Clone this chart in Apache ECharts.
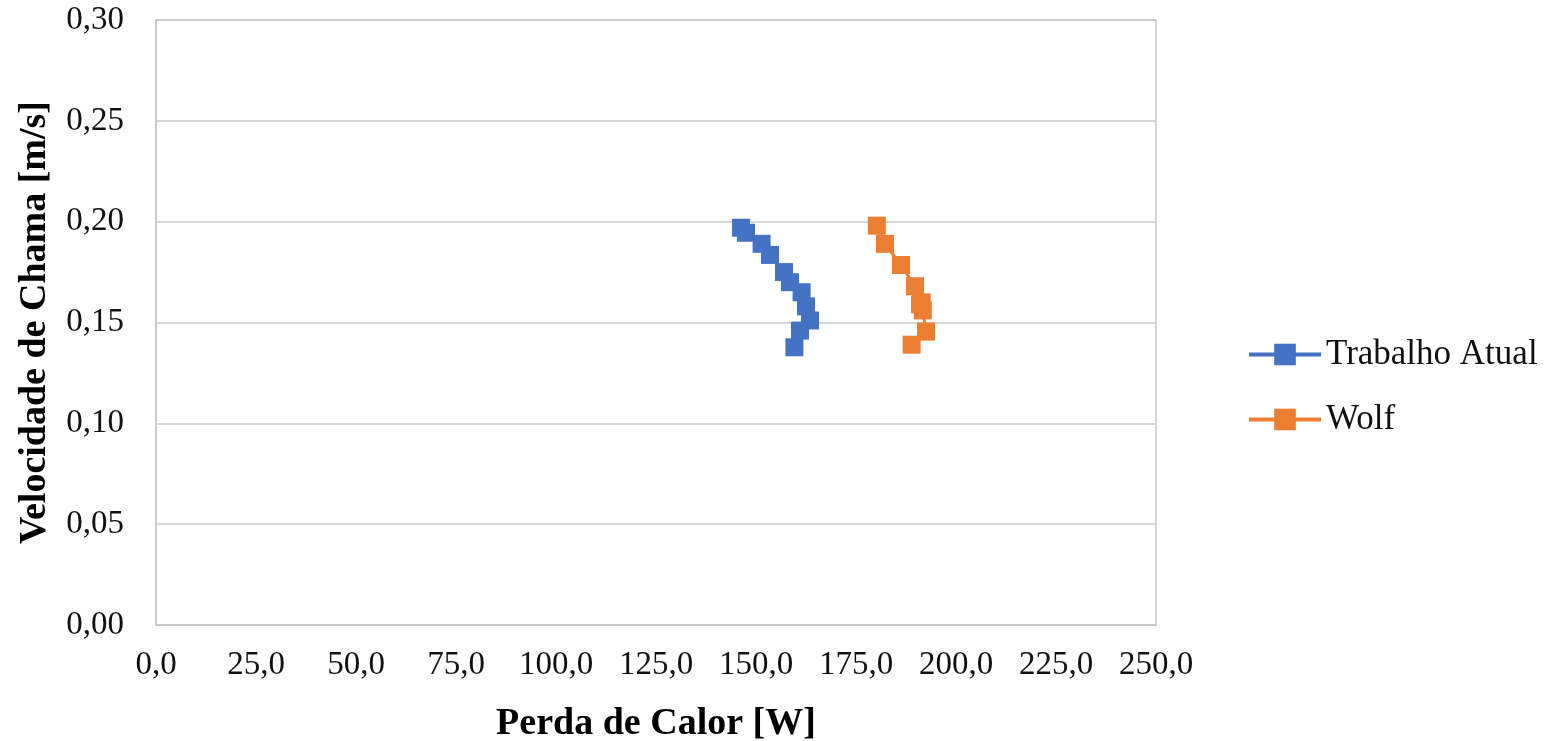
<!DOCTYPE html>
<html><head><meta charset="utf-8">
<script src="https://cdn.jsdelivr.net/npm/echarts@6/dist/echarts.min.js"></script>
<style>html,body{margin:0;padding:0;background:#fff}#c{width:1555px;height:741px}</style>
</head><body><div id="c"></div>
<script>
const seriesNames = ['Trabalho Atual', 'Wolf'];
const trabalhoX = [146.25, 147.5, 151.4, 153.5, 157.0, 158.5, 161.4, 162.5, 163.5, 161.0, 159.6];
const trabalhoY = [0.197, 0.1945, 0.189, 0.1835, 0.175, 0.170, 0.165, 0.158, 0.151, 0.146, 0.1377];
const wolfX = [180.2, 182.25, 186.25, 189.75, 191.4, 191.0, 191.7, 192.5, 188.9];
const wolfY = [0.198, 0.189, 0.1785, 0.168, 0.160, 0.159, 0.156, 0.1455, 0.139];
const xTicks = [0, 25, 50, 75, 100, 125, 150, 175, 200, 225, 250];
const yTicks = [0, 0.05, 0.10, 0.15, 0.20, 0.25, 0.30];

const zip = (a, b) => a.map((v, i) => [v, b[i]]);
const font = 'Liberation Serif';
const chart = echarts.init(document.getElementById('c'));
chart.setOption({
  animation: false,
  textStyle: { fontFamily: font },
  grid: { left: 156, right: 399, top: 20, bottom: 116, show: true, borderColor: '#c8c8c8', borderWidth: 1.5,
          containLabel: false, outerBoundsMode: 'none' },
  legend: {
    orient: 'vertical', left: 1242, top: 332, itemWidth: 72, itemHeight: 27, itemGap: 30,
    lineStyle: { width: 4 },
    textStyle: { fontFamily: font, fontSize: 35, color: '#111' },
    data: seriesNames
  },
  xAxis: {
    type: 'value', min: xTicks[0], max: xTicks[xTicks.length - 1], interval: 25,
    name: 'Perda de Calor [W]', nameLocation: 'middle', nameGap: 80, nameMoveOverlap: false,
    nameTextStyle: { fontFamily: font, fontSize: 38, fontWeight: 'bold', color: '#000' },
    axisLine: { show: true, lineStyle: { color: '#c8c8c8', width: 1.5 } }, axisTick: { show: false },
    splitLine: { show: false },
    axisLabel: { fontFamily: font, fontSize: 33, color: '#111', margin: 24, formatter: v => v.toFixed(1).replace('.', ',') }
  },
  yAxis: {
    type: 'value', min: yTicks[0], max: yTicks[yTicks.length - 1], interval: 0.05,
    name: 'Velocidade de Chama [m/s]', nameLocation: 'middle', nameGap: 102, nameMoveOverlap: false,
    nameTextStyle: { fontFamily: font, fontSize: 38, fontWeight: 'bold', color: '#000' },
    axisLine: { show: true, lineStyle: { color: '#c8c8c8', width: 1.5 } }, axisTick: { show: false },
    splitLine: { show: true, lineStyle: { color: '#c8c8c8', width: 1.5 } },
    axisLabel: { fontFamily: font, fontSize: 33, color: '#111', margin: 32, formatter: v => v.toFixed(2).replace('.', ',') }
  },
  series: [
    { name: seriesNames[0], type: 'line', data: zip(trabalhoX, trabalhoY), symbol: 'rect', symbolSize: 18,
      itemStyle: { color: '#4472c4' }, lineStyle: { color: '#4472c4', width: 3 } },
    { name: seriesNames[1], type: 'line', data: zip(wolfX, wolfY), symbol: 'rect', symbolSize: 18,
      itemStyle: { color: '#ed7d31' }, lineStyle: { color: '#ed7d31', width: 3 } }
  ]
});
</script></body></html>
